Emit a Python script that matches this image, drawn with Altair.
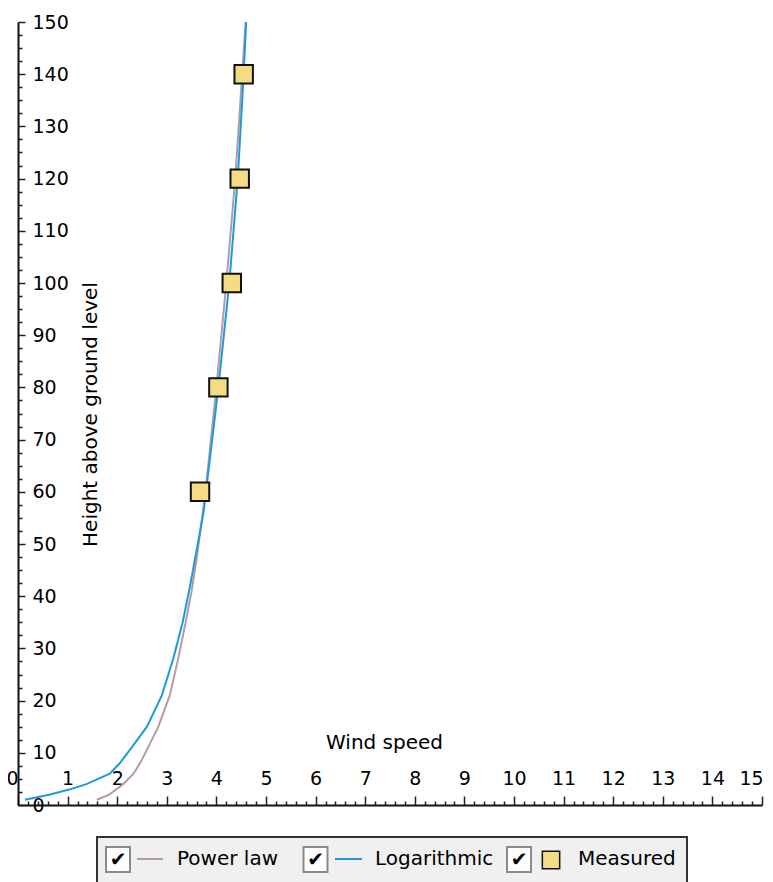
import altair as alt
import pandas as pd

series_names = ["Power law", "Logarithmic", "Measured"]
series_colors = ["#b59aa8", "#1f9ad9", "#f5dc82"]

power_height = [1, 2, 4, 6, 8.5, 15, 21, 28, 35, 41, 47, 60, 80, 100, 120, 140, 150]
power_speed = [1.59, 1.84, 2.12, 2.33, 2.49, 2.83, 3.06, 3.23, 3.38, 3.50, 3.60, 3.78, 4.00, 4.20, 4.38, 4.52, 4.59]

log_height = [1, 2, 3, 4, 6, 8, 11, 15, 21, 28, 35, 42, 56, 64, 80, 100, 120, 140, 150]
log_speed = [0.14, 0.65, 1.05, 1.38, 1.85, 2.05, 2.29, 2.6, 2.9, 3.13, 3.32, 3.47, 3.74, 3.84, 4.04, 4.26, 4.43, 4.55, 4.6]

meas_height = [60, 80, 100, 120, 140]
meas_speed = [3.67, 4.04, 4.31, 4.47, 4.55]

x_tick_values = [round(i * 0.2, 1) for i in range(76)]
y_tick_values = [i * 2.5 for i in range(61)]

W, H = 744, 783
FONT = "DejaVu Sans"

power_df = pd.DataFrame({"speed": power_speed, "height": power_height})
log_df = pd.DataFrame({"speed": log_speed, "height": log_height})
meas_df = pd.DataFrame({"speed": meas_speed, "height": meas_height})

x_scale = alt.Scale(domain=[0, 15], nice=False, zero=False)
y_scale = alt.Scale(domain=[0, 150], nice=False, zero=False)

x_axis = alt.Axis(
    orient="top", offset=-H, values=x_tick_values, format=".0f",
    labelExpr="abs(datum.value - round(datum.value)) < 0.001 ? datum.label : ''",
    tickSize={"condition": {"test": "abs(datum.value - round(datum.value)) < 0.001", "value": 9}, "value": 4},
    labelAlign={"condition": {"test": "datum.value === 0", "value": "right"}, "value": "center"},
    labelOffset={"condition": {"test": "datum.value === 15", "value": -11}, "value": 0},
    labelFlush=False, labelOverlap=False, labelBound=False,
    labelFont=FONT, labelFontSize=19, labelColor="#000", labelPadding=8,
    domainColor="#111", domainWidth=2, tickColor="#222", tickWidth=1.5,
    grid=False, title="Wind speed", titleFont=FONT, titleFontSize=20,
    titleFontWeight="normal", titleColor="#000", titleX=366, titleY=-63,
    titleAlign="center", titleBaseline="middle", titleAngle=0,
)
y_axis = alt.Axis(
    orient="right", offset=-W, values=y_tick_values, format=".0f",
    labelExpr="datum.value % 10 === 0 ? datum.label : ''",
    tickSize={"condition": {"test": "datum.value % 10 === 0", "value": 7}, "value": 4},
    labelFlush=False, labelOverlap=False, labelBound=False,
    labelFont=FONT, labelFontSize=19, labelColor="#000", labelPadding=7,
    labelAlign="left", labelBaseline="middle",
    domainColor="#111", domainWidth=2, tickColor="#222", tickWidth=1.5,
    grid=False, title="Height above ground level", titleFont=FONT, titleFontSize=20,
    titleFontWeight="normal", titleColor="#000", titleX=72, titleY=392,
    titleAngle=270, titleAlign="center", titleBaseline="middle",
)

def xy():
    return dict(
        x=alt.X("speed:Q", scale=x_scale, axis=x_axis),
        y=alt.Y("height:Q", scale=y_scale, axis=y_axis),
    )

power = alt.Chart(power_df).mark_line(color=series_colors[0], strokeWidth=2).encode(
    order="height:Q", **xy())
logc = alt.Chart(log_df).mark_line(color=series_colors[1], strokeWidth=2).encode(
    order="height:Q", **xy())
meas = alt.Chart(meas_df).mark_square(
    size=340, fill=series_colors[2], stroke="#111", strokeWidth=2, opacity=1, filled=True
).encode(**xy())

# Legend (manual, with check boxes)
one = pd.DataFrame({"k": [0]})
box = alt.Chart(one).mark_rect(fill="#f0f0f0", stroke="#333", strokeWidth=2).encode(
    x=alt.value(79), x2=alt.value(669), y=alt.value(815), y2=alt.value(900))

layers = [power, logc, meas, box]
check_x = [100, 297.5, 501]
text_x = [159, 357, 560]
for i, name in enumerate(series_names):
    cx = check_x[i]
    layers.append(alt.Chart(one).mark_rect(fill="#ffffff", stroke="#8a8a8a", strokeWidth=2).encode(
        x=alt.value(cx - 12), x2=alt.value(cx + 12), y=alt.value(825), y2=alt.value(850)))
    layers.append(alt.Chart(one).mark_text(text="\u2714", font=FONT, fontSize=20, color="#000",
                                           align="center", baseline="middle").encode(
        x=alt.value(cx), y=alt.value(838)))
    lbl = pd.DataFrame({"label": [name]})
    layers.append(alt.Chart(lbl).mark_text(font=FONT, fontSize=20, color="#000",
                                           align="left", baseline="middle").encode(
        x=alt.value(text_x[i]), y=alt.value(837), text="label:N"))

layers.append(alt.Chart(one).mark_rule(color=series_colors[0], strokeWidth=2).encode(
    x=alt.value(119), x2=alt.value(145), y=alt.value(837)))
layers.append(alt.Chart(one).mark_rule(color=series_colors[1], strokeWidth=2).encode(
    x=alt.value(317), x2=alt.value(344), y=alt.value(837)))
layers.append(alt.Chart(one).mark_square(size=300, fill=series_colors[2], stroke="#111",
                                         strokeWidth=1.5, opacity=1, filled=True).encode(
    x=alt.value(533), y=alt.value(838)))

chart = alt.layer(*layers).properties(
    width=W, height=H,
    autosize=alt.AutoSizeParams(type="none"),
    padding={"left": 10, "top": 14, "right": 3, "bottom": 77},
    background="#ffffff",
).configure_view(stroke=None)

chart.save("out.html", embed_options={"renderer": "svg", "actions": False})
